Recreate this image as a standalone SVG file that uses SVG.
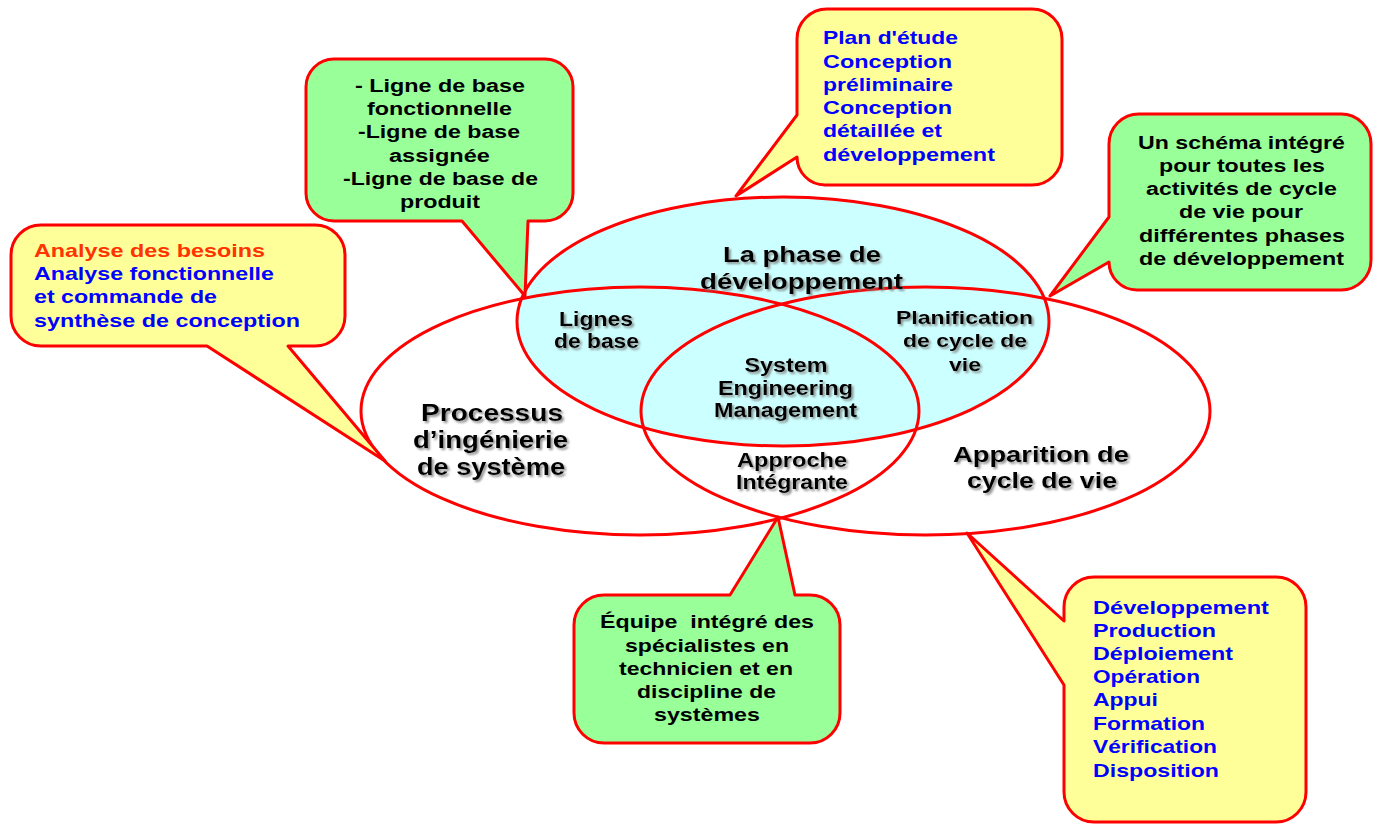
<svg xmlns="http://www.w3.org/2000/svg" width="1373" height="826" viewBox="0 0 1373 826">
<defs>
<style>
.ell{stroke:#ff0000;stroke-width:3;}
.co{stroke:#ff0000;stroke-width:3;stroke-linejoin:round;}
.yel{fill:#ffff99;}
.grn{fill:#99ff99;}
text{font-family:"Liberation Sans",Arial,sans-serif;font-weight:bold;}
.lbl{fill:#000;text-anchor:middle;filter:url(#sh);}
.ctr{fill:#000;text-anchor:middle;font-size:18px;}
.blu{fill:#0000ff;font-size:18.5px;}
.org{fill:#ff3300;font-size:18.5px;}
</style>
<filter id="sh" x="-10%" y="-30%" width="130%" height="170%">
<feDropShadow dx="2" dy="2" stdDeviation="1" flood-color="#777" flood-opacity="0.8"/>
</filter>
</defs>
<rect width="1373" height="826" fill="#ffffff"/>

<g id="venn">
<ellipse id="phase-developpement" class="ell" cx="783" cy="321.5" rx="266" ry="124.5" fill="#ccffff"/>
<ellipse id="processus" class="ell" cx="640" cy="411" rx="279" ry="124" fill="none"/>
<ellipse id="apparition" class="ell" cx="925.5" cy="411" rx="284.5" ry="124" fill="none"/>
</g>

<g id="venn-labels">
<g id="lbl-phase">
<text class="lbl" x="802" y="262" font-size="22" textLength="158" lengthAdjust="spacingAndGlyphs">La phase de</text>
<text class="lbl" x="801.5" y="289" font-size="22" textLength="203" lengthAdjust="spacingAndGlyphs">développement</text>
</g>
<g id="lbl-lignes">
<text class="lbl" x="596" y="326" font-size="20" textLength="74" lengthAdjust="spacingAndGlyphs">Lignes</text>
<text class="lbl" x="596.5" y="348" font-size="20" textLength="85" lengthAdjust="spacingAndGlyphs">de base</text>
</g>
<g id="lbl-sem">
<text class="lbl" x="786" y="372" font-size="20" textLength="83" lengthAdjust="spacingAndGlyphs">System</text>
<text class="lbl" x="785.5" y="395" font-size="20" textLength="135" lengthAdjust="spacingAndGlyphs">Engineering</text>
<text class="lbl" x="785.5" y="417" font-size="20" textLength="143" lengthAdjust="spacingAndGlyphs">Management</text>
</g>
<g id="lbl-approche">
<text class="lbl" x="792" y="467" font-size="20" textLength="110" lengthAdjust="spacingAndGlyphs">Approche</text>
<text class="lbl" x="792" y="489" font-size="20" textLength="112" lengthAdjust="spacingAndGlyphs">Intégrante</text>
</g>
<g id="lbl-processus">
<text class="lbl" x="492" y="421" font-size="23" textLength="142" lengthAdjust="spacingAndGlyphs">Processus</text>
<text class="lbl" x="490.5" y="448" font-size="23" textLength="155" lengthAdjust="spacingAndGlyphs">d’ingénierie</text>
<text class="lbl" x="491" y="475" font-size="23" textLength="148" lengthAdjust="spacingAndGlyphs">de système</text>
</g>
<g id="lbl-planification">
<text class="lbl" x="964.5" y="324" font-size="19" textLength="137" lengthAdjust="spacingAndGlyphs">Planification</text>
<text class="lbl" x="965" y="347" font-size="19" textLength="124" lengthAdjust="spacingAndGlyphs">de cycle de</text>
<text class="lbl" x="965" y="371" font-size="19" textLength="32" lengthAdjust="spacingAndGlyphs">vie</text>
</g>
<g id="lbl-apparition">
<text class="lbl" x="1041" y="462" font-size="22" textLength="176" lengthAdjust="spacingAndGlyphs">Apparition de</text>
<text class="lbl" x="1042" y="488" font-size="22" textLength="150" lengthAdjust="spacingAndGlyphs">cycle de vie</text>
</g>
</g>

<g id="callout-lignes-base">
<path class="co grn" d="M334,59 H545 A28,28 0 0 1 573,87 V193 A28,28 0 0 1 545,221 H528 L525,296 L462,221 H334 A28,28 0 0 1 306,193 V87 A28,28 0 0 1 334,59 Z"/>
<text class="ctr" x="440" y="92" font-size="17.5" textLength="170" lengthAdjust="spacingAndGlyphs">- Ligne de base</text>
<text class="ctr" x="439.5" y="115" font-size="17.5" textLength="145" lengthAdjust="spacingAndGlyphs">fonctionnelle</text>
<text class="ctr" x="439" y="138" font-size="17.5" textLength="162" lengthAdjust="spacingAndGlyphs">-Ligne de base</text>
<text class="ctr" x="439.5" y="162" font-size="17.5" textLength="101" lengthAdjust="spacingAndGlyphs">assignée</text>
<text class="ctr" x="440.5" y="185" font-size="17.5" textLength="195" lengthAdjust="spacingAndGlyphs">-Ligne de base de</text>
<text class="ctr" x="440" y="208" font-size="17.5" textLength="80" lengthAdjust="spacingAndGlyphs">produit</text>
</g>

<g id="callout-plan-etude">
<path class="co yel" d="M827,9 H1032 A30,30 0 0 1 1062,39 V155 A30,30 0 0 1 1032,185 H825 A28,28 0 0 1 797,157 L736,196 L797,115 V39 A30,30 0 0 1 827,9 Z"/>
<text class="blu" x="823" y="44" textLength="135" lengthAdjust="spacingAndGlyphs">Plan d'étude</text>
<text class="blu" x="823" y="68" textLength="129" lengthAdjust="spacingAndGlyphs">Conception</text>
<text class="blu" x="823" y="91" textLength="130" lengthAdjust="spacingAndGlyphs">préliminaire</text>
<text class="blu" x="823" y="114" textLength="129" lengthAdjust="spacingAndGlyphs">Conception</text>
<text class="blu" x="823" y="137" textLength="119" lengthAdjust="spacingAndGlyphs">détaillée et</text>
<text class="blu" x="823" y="161" textLength="172" lengthAdjust="spacingAndGlyphs">développement</text>
</g>

<g id="callout-schema">
<path class="co grn" d="M1139,114 H1341 A30,30 0 0 1 1371,144 V260 A30,30 0 0 1 1341,290 H1137 A28,28 0 0 1 1109,262 L1050,296 L1109,217 V144 A30,30 0 0 1 1139,114 Z"/>
<text class="ctr" x="1241.5" y="149" textLength="207" lengthAdjust="spacingAndGlyphs">Un schéma intégré</text>
<text class="ctr" x="1242" y="172" textLength="166" lengthAdjust="spacingAndGlyphs">pour toutes les</text>
<text class="ctr" x="1241.5" y="195" textLength="191" lengthAdjust="spacingAndGlyphs">activités de cycle</text>
<text class="ctr" x="1241" y="218" textLength="124" lengthAdjust="spacingAndGlyphs">de vie pour</text>
<text class="ctr" x="1242" y="242" textLength="206" lengthAdjust="spacingAndGlyphs">différentes phases</text>
<text class="ctr" x="1241.5" y="265" textLength="205" lengthAdjust="spacingAndGlyphs">de développement</text>
</g>

<g id="callout-analyse">
<path class="co yel" d="M41,225 H315 A30,30 0 0 1 345,255 V316 A30,30 0 0 1 315,346 H288 L385,461 L207,346 H41 A30,30 0 0 1 11,316 V255 A30,30 0 0 1 41,225 Z"/>
<text class="org" x="34" y="257" textLength="231" lengthAdjust="spacingAndGlyphs">Analyse des besoins</text>
<text class="blu" x="34" y="280" textLength="240" lengthAdjust="spacingAndGlyphs">Analyse fonctionnelle</text>
<text class="blu" x="34" y="303" textLength="183" lengthAdjust="spacingAndGlyphs">et commande de</text>
<text class="blu" x="34" y="327" textLength="266" lengthAdjust="spacingAndGlyphs">synthèse de conception</text>
</g>

<g id="callout-equipe">
<path class="co grn" d="M604,595 H730 L778,517 L795,595 H810 A30,30 0 0 1 840,625 V713 A30,30 0 0 1 810,743 H604 A30,30 0 0 1 574,713 V625 A30,30 0 0 1 604,595 Z"/>
<text class="ctr" x="707" y="628" textLength="214" lengthAdjust="spacingAndGlyphs" xml:space="preserve">Équipe  intégré des</text>
<text class="ctr" x="707" y="652" textLength="164" lengthAdjust="spacingAndGlyphs">spécialistes en</text>
<text class="ctr" x="706" y="675" textLength="174" lengthAdjust="spacingAndGlyphs">technicien et en</text>
<text class="ctr" x="706.5" y="698" textLength="139" lengthAdjust="spacingAndGlyphs">discipline de</text>
<text class="ctr" x="707" y="721" textLength="106" lengthAdjust="spacingAndGlyphs">systèmes</text>
</g>

<g id="callout-phases">
<path class="co yel" d="M1094,577 H1276 A30,30 0 0 1 1306,607 V792 A30,30 0 0 1 1276,822 H1094 A30,30 0 0 1 1064,792 V685 L967,533 L1064,621 V607 A30,30 0 0 1 1094,577 Z"/>
<text class="blu" x="1093" y="614" textLength="176" lengthAdjust="spacingAndGlyphs">Développement</text>
<text class="blu" x="1093" y="637" textLength="123" lengthAdjust="spacingAndGlyphs">Production</text>
<text class="blu" x="1093" y="660" textLength="140" lengthAdjust="spacingAndGlyphs">Déploiement</text>
<text class="blu" x="1093" y="683" textLength="107" lengthAdjust="spacingAndGlyphs">Opération</text>
<text class="blu" x="1093" y="706" textLength="65" lengthAdjust="spacingAndGlyphs">Appui</text>
<text class="blu" x="1093" y="730" textLength="112" lengthAdjust="spacingAndGlyphs">Formation</text>
<text class="blu" x="1093" y="753" textLength="124" lengthAdjust="spacingAndGlyphs">Vérification</text>
<text class="blu" x="1093" y="777" textLength="126" lengthAdjust="spacingAndGlyphs">Disposition</text>
</g>

<g id="connectors"></g>
</svg>
